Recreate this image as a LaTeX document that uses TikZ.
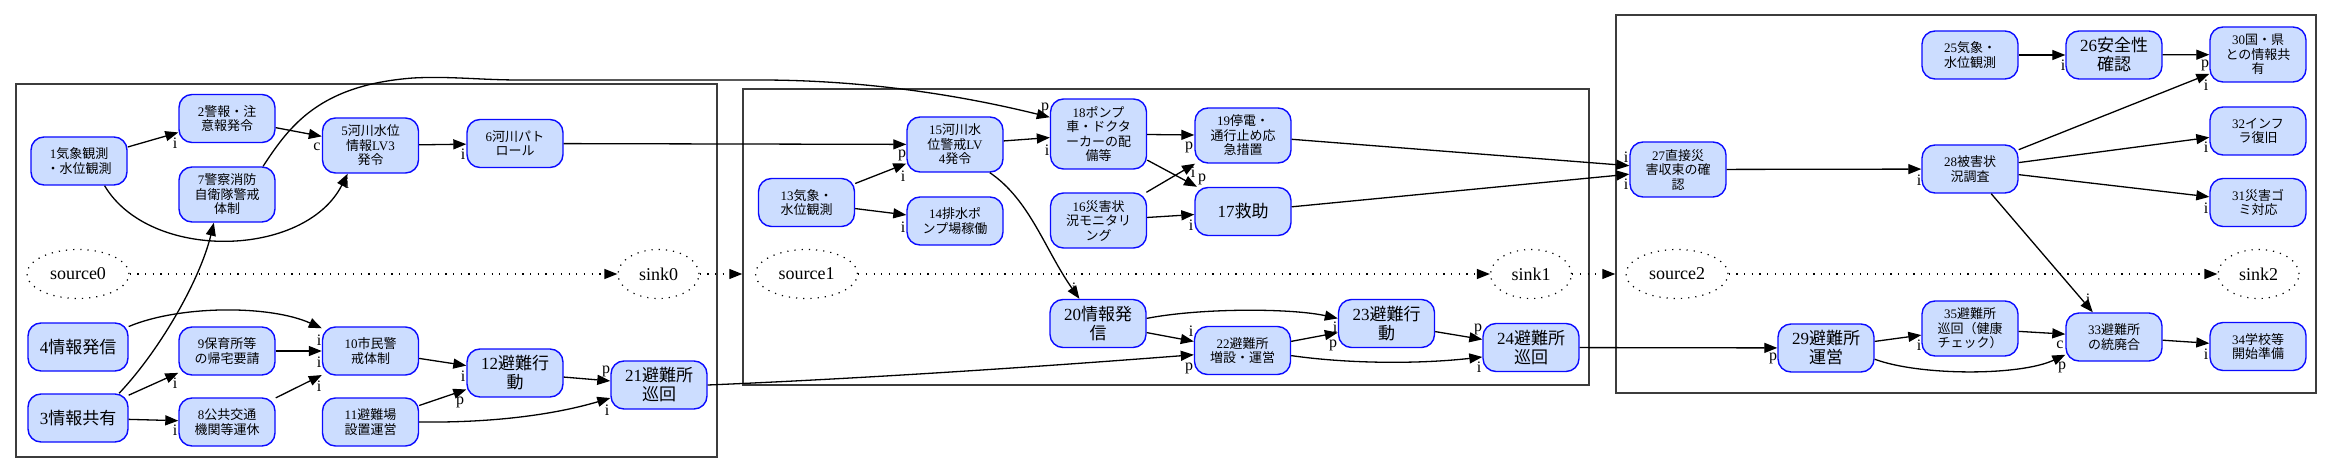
\documentclass[tikz,border=0pt]{standalone}
\usepackage{fontspec}
\setmainfont{Liberation Serif}
\newfontfamily\cjkfont{Noto Sans CJK JP}
\usetikzlibrary{arrows.meta,shapes.geometric}
\newcommand\JP[1]{{\cjkfont #1}}
\definecolor{nodefill}{RGB}{204,221,255}
\definecolor{nodeline}{RGB}{10,10,255}
\definecolor{clusterline}{RGB}{60,60,60}
\begin{document}
\begin{tikzpicture}[x=1pt,y=-1pt,
  nd/.style={draw=nodeline, fill=nodefill, line width=1.4pt, rounded corners=13pt,
    minimum width=96pt, minimum height=48pt, inner sep=1pt, align=center,
    font=\fontsize{13}{14.5}\selectfont},
  big/.style={font=\fontsize{17}{19}\selectfont},
  tall/.style={minimum height=55pt},
  wide/.style={minimum width=100pt},
  endpt/.style={draw, ellipse, line width=1.2pt, dash pattern=on 1.2pt off 6pt,
    minimum height=49pt, inner sep=0pt, font=\fontsize{18}{18}\selectfont},
  srcnode/.style={endpt, minimum width=102pt},
  snknode/.style={endpt, minimum width=81pt},
  cluster/.style={draw=clusterline, line width=1.5pt, inner sep=0pt},
  edge/.style={-{Triangle[length=13pt,width=10pt]}, line width=1.3pt},
  dotline/.style={edge, dash pattern=on 1.2pt off 6.5pt},
  lbl/.style={inner sep=0pt, font=\fontsize{16}{16}\selectfont}
]
\useasboundingbox (0,0) rectangle (2333,473);

% clusters
\node[cluster, minimum width=701pt, minimum height=373pt] (c0) at (366.5,270.5) {};
\node[cluster, minimum width=846pt, minimum height=296pt] (c1) at (1166,237) {};
\node[cluster, minimum width=700pt, minimum height=378pt] (c2) at (1966,204) {};

% source / sink
\node[srcnode] (s0) at (78,274) {source0};
\node[snknode] (k0) at (658.5,274) {sink0};
\node[srcnode] (s1) at (806.5,274) {source1};
\node[snknode] (k1) at (1531,274) {sink1};
\node[srcnode] (s2) at (1677,274) {source2};
\node[snknode] (k2) at (2258.5,274) {sink2};

% cluster 0
\node[nd] (n1) at (79,161) {1\JP{気象観測}\\\JP{・水位観測}};
\node[nd] (n2) at (227,118.5) {2\JP{警報・注}\\\JP{意報発令}};
\node[nd,tall] (n7) at (227,194.5) {7\JP{警察消防}\\\JP{自衛隊警戒}\\\JP{体制}};
\node[nd,tall] (n5) at (370.5,145.5) {5\JP{河川水位}\\\JP{情報}LV3\\\JP{発令}};
\node[nd] (n6) at (515,143.5) {6\JP{河川パト}\\\JP{ロール}};
\node[nd,big,wide] (n4) at (78,347) {4\JP{情報発信}};
\node[nd,big,wide] (n3) at (78,418) {3\JP{情報共有}};
\node[nd] (n9) at (227,351) {9\JP{保育所等}\\\JP{の帰宅要請}};
\node[nd] (n8) at (227,422) {8\JP{公共交通}\\\JP{機関等運休}};
\node[nd] (n10) at (370.5,351) {10\JP{市民警}\\\JP{戒体制}};
\node[nd] (n11) at (370.5,422) {11\JP{避難場}\\\JP{設置運営}};
\node[nd,big] (n12) at (515,373) {12\JP{避難行}\\\JP{動}};
\node[nd,big] (n21) at (659,385) {21\JP{避難所}\\\JP{巡回}};

% cluster 1
\node[nd] (n13) at (806.5,202.5) {13\JP{気象・}\\\JP{水位観測}};
\node[nd] (n14) at (955,221) {14\JP{排水ポ}\\\JP{ンプ場稼働}};
\node[nd,tall] (n15) at (955,144.5) {15\JP{河川水}\\\JP{位警戒}LV\\4\JP{発令}};
\node[nd,minimum height=70pt] (n18) at (1098.5,134) {18\JP{ポンプ}\\\JP{車・ドクタ}\\\JP{ーカーの配}\\\JP{備等}};
\node[nd,tall] (n16) at (1098.5,220.5) {16\JP{災害状}\\\JP{況モニタリ}\\\JP{ング}};
\node[nd,tall] (n19) at (1243,135.5) {19\JP{停電・}\\\JP{通行止め応}\\\JP{急措置}};
\node[nd,big] (n17) at (1243,211.5) {17\JP{救助}};
\node[nd,big] (n20) at (1098,323.5) {20\JP{情報発}\\\JP{信}};
\node[nd] (n22) at (1242.5,350.5) {22\JP{避難所}\\\JP{増設・運営}};
\node[nd,big] (n23) at (1386.5,323.5) {23\JP{避難行}\\\JP{動}};
\node[nd,big] (n24) at (1531,347.5) {24\JP{避難所}\\\JP{巡回}};

% cluster 2
\node[nd] (n25) at (1970,55) {25\JP{気象・}\\\JP{水位観測}};
\node[nd,big] (n26) at (2114,55) {26\JP{安全性}\\\JP{確認}};
\node[nd,tall] (n30) at (2258,54.5) {30\JP{国・県}\\\JP{との情報共}\\\JP{有}};
\node[nd] (n32) at (2258,131) {32\JP{インフ}\\\JP{ラ復旧}};
\node[nd] (n31) at (2258,202.5) {31\JP{災害ゴ}\\\JP{ミ対応}};
\node[nd,tall] (n27) at (1678,169.5) {27\JP{直接災}\\\JP{害収束の確}\\\JP{認}};
\node[nd] (n28) at (1970,169) {28\JP{被害状}\\\JP{況調査}};
\node[nd,big] (n29) at (1826,348) {29\JP{避難所}\\\JP{運営}};
\node[nd,tall] (n35) at (1970,328.5) {35\JP{避難所}\\\JP{巡回（健康}\\\JP{チェック）}};
\node[nd] (n33) at (2114,337) {33\JP{避難所}\\\JP{の統廃合}};
\node[nd] (n34) at (2258,346.5) {34\JP{学校等}\\\JP{開始準備}};

% dotted chain
\draw[dotline] (s0) -- (k0);
\draw[dotline] (k0) -- (k0 -| c1.west);
\draw[dotline] (s1) -- (k1);
\draw[dotline] (k1) -- (k1 -| c2.west);
\draw[dotline] (s2) -- (k2);

% edges cluster 0
\draw[edge] (n1) -- (n2);
\draw[edge] (n1.-44) .. controls (150,262) and (305,258) .. (n5.-129);
\draw[edge] (n2) -- (n5);
\draw[edge] (n5) -- (n6);
\draw[edge] (n3.31) .. controls (160,350) and (200,280) .. (n7.-115);
\draw[edge] (n3) -- (n9);
\draw[edge] (n3) -- (n8);
\draw[edge] (n4.22) .. controls (180,305) and (270,305) .. (n10.155);
\draw[edge] (n9) -- (n10);
\draw[edge] (n8) -- (n10);
\draw[edge] (n10) -- (n12);
\draw[edge] (n11) -- (n12);
\draw[edge] (n11.east) .. controls (500,423) and (560,413) .. (n21.195);
\draw[edge] (n12) -- (n21);
\draw[edge] (n6) -- (n15);
\draw[edge] (n7.38) .. controls (290,125) and (320,85) .. (413,78)
  .. controls (450,76) and (480,80) .. (520,80) -- (760,80)
  .. controls (880,80) and (980,100) .. (n18.161);

% edges cluster 1
\draw[edge] (n13) -- (n15);
\draw[edge] (n13) -- (n14);
\draw[edge] (n15) -- (n18);
\draw[edge] (n15.-39) .. controls (1030,200) and (1045,250) .. (n20.127);
\draw[edge] (n18) -- (n19);
\draw[edge] (n18) -- (n17);
\draw[edge] (n16) -- (n19);
\draw[edge] (n16) -- (n17);
\draw[edge] (n19) -- (n27);
\draw[edge] (n17) -- (n27);
\draw[edge] (n20.6) .. controls (1200,308) and (1290,308) .. (n23.174);
\draw[edge] (n20) -- (n22);
\draw[edge] (n21.east) .. controls (900,377) and (1100,362) .. (n22.-175);
\draw[edge] (n22) -- (n23);
\draw[edge] (n22.-6) .. controls (1350,364) and (1420,364) .. (n24.-169);
\draw[edge] (n23) -- (n24);
\draw[edge] (n24) -- (n29);

% edges cluster 2
\draw[edge] (n27) -- (n28);
\draw[edge] (n25) -- (n26);
\draw[edge] (n26) -- (n30);
\draw[edge] (n28) -- (n30);
\draw[edge] (n28) -- (n32);
\draw[edge] (n28) -- (n31);
\draw[edge] (n28) -- (n33);
\draw[edge] (n29) -- (n35);
\draw[edge] (n29.-13) .. controls (1920,376) and (2020,376) .. (n33.-160);
\draw[edge] (n35) -- (n33);
\draw[edge] (n33) -- (n34);

% edge labels
\node[lbl] (l1) at (175,143) {i};
\node[lbl] (l2) at (347,183) {i};
\node[lbl] (l3) at (317,147) {c};
\node[lbl] (l4) at (463,154) {i};
\node[lbl] (l5) at (175,383) {i};
\node[lbl] (l6) at (175,430) {i};
\node[lbl] (l7) at (319,340) {i};
\node[lbl] (l8) at (319,362) {i};
\node[lbl] (l9) at (319,386) {i};
\node[lbl] (l10) at (463,376) {i};
\node[lbl] (l11) at (460,402) {p};
\node[lbl] (l12) at (607,410) {i};
\node[lbl] (l13) at (606,371) {p};
\node[lbl] (l14) at (902,155) {p};
\node[lbl] (l15) at (1045,108) {p};
\node[lbl] (l16) at (903,176) {i};
\node[lbl] (l17) at (903,227) {i};
\node[lbl] (l18) at (1047,150) {i};
\node[lbl] (l19) at (1074,288) {i};
\node[lbl] (l20) at (1189,147) {p};
\node[lbl] (l21) at (1202,179) {p};
\node[lbl] (l22) at (1193,172) {i};
\node[lbl] (l23) at (1191,225) {i};
\node[lbl] (l24) at (1626,157) {i};
\node[lbl] (l25) at (1626,184) {i};
\node[lbl] (l26) at (1335,327) {i};
\node[lbl] (l27) at (1191,331) {i};
\node[lbl] (l28) at (1189,368) {p};
\node[lbl] (l29) at (1333,345) {p};
\node[lbl] (l30) at (1479,367) {i};
\node[lbl] (l31) at (1478,329) {p};
\node[lbl] (l32) at (1773,358) {p};
\node[lbl] (l33) at (1919,180) {i};
\node[lbl] (l34) at (2063,65) {i};
\node[lbl] (l35) at (2205,65) {p};
\node[lbl] (l36) at (2206,85) {i};
\node[lbl] (l37) at (2206,147) {i};
\node[lbl] (l38) at (2206,208) {i};
\node[lbl] (l39) at (2088,299) {i};
\node[lbl] (l40) at (1919,345) {i};
\node[lbl] (l41) at (2062,367) {p};
\node[lbl] (l42) at (2060,345) {c};
\node[lbl] (l43) at (2206,354) {i};
\end{tikzpicture}
\end{document}
